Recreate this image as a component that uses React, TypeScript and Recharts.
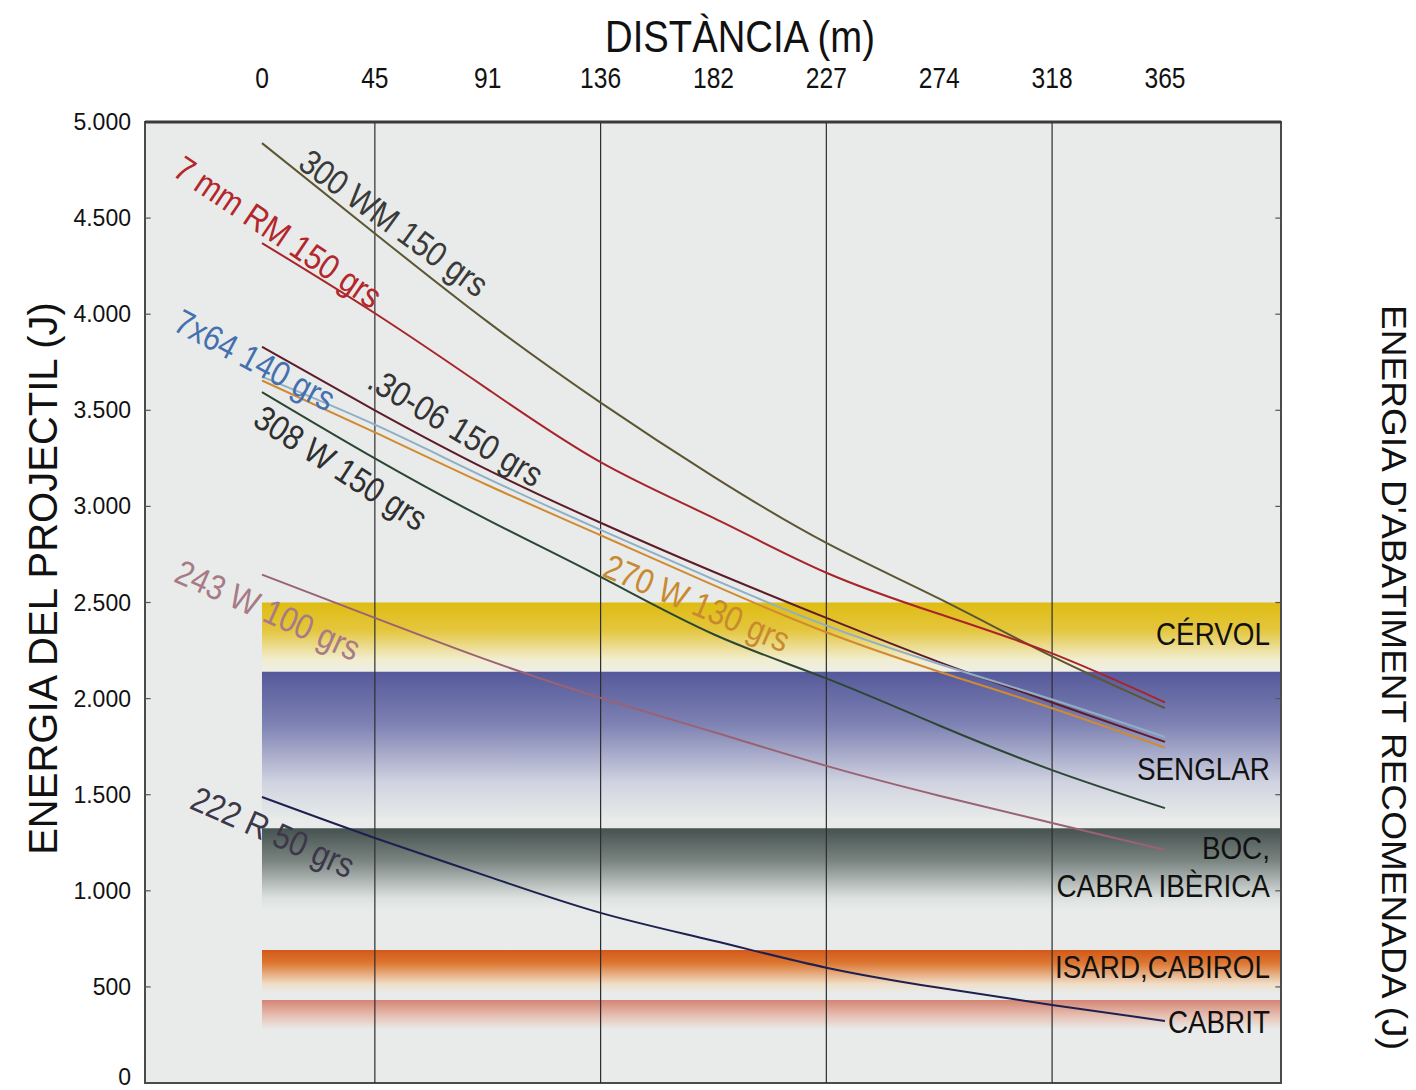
import React from 'react';
import { LineChart, Line, XAxis, YAxis, ReferenceArea, ReferenceLine, ReferenceDot, Label } from 'recharts';

// ---- data ----
const DIST = ['0', '45', '91', '136', '182', '227', '274', '318', '365'];
const IDX = [0, 1, 2, 3, 4, 5, 6, 7, 8];
const WM300 = [4890, 4420, 3960, 3540, 3155, 2810, 2520, 2220, 1950];
const RM7 = [4370, 4005, 3610, 3230, 2940, 2655, 2440, 2235, 1980];
const S3006 = [3830, 3500, 3190, 2915, 2660, 2420, 2190, 1980, 1775];
const X764 = [3675, 3425, 3145, 2878, 2620, 2380, 2180, 1995, 1800];
const W270 = [3655, 3385, 3110, 2850, 2590, 2345, 2140, 1950, 1745];
const W308 = [3595, 3250, 2930, 2633, 2335, 2105, 1860, 1628, 1430];
const W243 = [2645, 2420, 2200, 2003, 1826, 1650, 1495, 1353, 1212];
const R222 = [1488, 1275, 1075, 885, 740, 600, 495, 406, 323];
const Y_TICKS = [0, 500, 1000, 1500, 2000, 2500, 3000, 3500, 4000, 4500, 5000];
const INNER_TICKS = [500, 1000, 1500, 2000, 2500, 3000, 3500, 4000, 4500];
const GRID_IDX = [1, 3, 5, 7];
const X_DOMAIN: [number, number] = [-1.0365, 9.028];
const Y_DOMAIN: [number, number] = [0, 5000];

// recommended energy bands [bottom of fade, top] (J)
const BANDS = [
  { id: 'cervol', from: 2140, to: 2500 },
  { id: 'senglar', from: 1370, to: 2140 },
  { id: 'boc', from: 900, to: 1325 },
  { id: 'isard', from: 470, to: 692 },
  { id: 'cabrit', from: 280, to: 432 },
];
const BAND_LABELS = [
  { text: 'CÉRVOL', y: 2336 },
  { text: 'SENGLAR', y: 1634 },
  { text: 'BOC,', y: 1223 },
  { text: 'CABRA IBÈRICA', y: 1025 },
  { text: 'ISARD,CABIROL', y: 604 },
  { text: 'CABRIT', y: 317 },
];

const SERIES = [
  { key: 'wm300', values: WM300, color: '#5C5632' },
  { key: 'rm7', values: RM7, color: '#A8242A' },
  { key: 's3006', values: S3006, color: '#5E1C28' },
  { key: 'x764', values: X764, color: '#8FAFC6' },
  { key: 'w270', values: W270, color: '#D08A30' },
  { key: 'w308', values: W308, color: '#2C4634' },
  { key: 'w243', values: W243, color: '#9A6272' },
  { key: 'r222', values: R222, color: '#1E2050' },
];

const SERIES_LABELS = [
  { text: '300 WM 150 grs', x: 1.169, y: 4475, angle: 36, color: '#3A3A3A' },
  { text: '7 mm RM 150 grs', x: 0.142, y: 4428, angle: 34, color: '#B3262B' },
  { text: '7x64 140 grs', x: -0.062, y: 3762, angle: 28, color: '#4470B0' },
  { text: '.30-06 150 grs', x: 1.719, y: 3413, angle: 31, color: '#333333' },
  { text: '308 W 150 grs', x: 0.7, y: 3200, angle: 33, color: '#2F2F2F' },
  { text: '270 W 130 grs', x: 3.854, y: 2497, angle: 23, color: '#C88A2E' },
  { text: '243 W 100 grs', x: 0.053, y: 2461, angle: 24, color: '#A77B86' },
  { text: '222 R 50 grs', x: 0.097, y: 1306, angle: 24, color: '#3C3749' },
];

const DATA = IDX.map((i) => {
  const row: any = { i };
  SERIES.forEach((s) => { row[s.key] = s.values[i]; });
  return row;
});

const FONT = "'Liberation Sans',Arial,Helvetica,sans-serif";

const fmt = (v: number) => (v >= 1000 ? `${Math.floor(v / 1000)}.${String(v % 1000).padStart(3, '0')}` : String(v));

// condensed text: Liberation Sans squeezed horizontally
const NText = ({ x, y, angle = 0, anchor = 'middle', size, fill = '#111', sx = 0.82, children }: any) => (
  <text
    transform={`translate(${x} ${y}) rotate(${angle}) scale(${sx} 1)`}
    x={0}
    y={0}
    dy="0.35em"
    textAnchor={anchor}
    fontFamily={FONT}
    fontSize={size}
    fill={fill}
  >
    {children}
  </text>
);

const TopTick = (p: any) => (
  <NText x={p.x} y={p.y - 45} size={30}>
    {DIST[p.payload.value]}
  </NText>
);

const LeftTick = (p: any) => (
  <text x={p.x} y={p.payload.value === 0 ? p.y - 6 : p.y} dy="0.35em" textAnchor="end" fontFamily={FONT} fontSize={23} fill="#111">
    {fmt(p.payload.value)}
  </text>
);

const RightTick = (p: any) => (
  <NText x={p.x} y={p.payload.value === 0 ? p.y - 6 : p.y} anchor="start" size={26}>
    {fmt(p.payload.value)}
  </NText>
);

const TopTitle = (p: any) => {
  const vb = p.viewBox || { x: 145, y: 0, width: 1136, height: 122 };
  return (
    <NText x={vb.x + vb.width / 2 + 27} y={vb.y + 36} size={45} sx={0.85}>
      DISTÀNCIA (m)
    </NText>
  );
};

const LeftTitle = (p: any) => {
  const vb = p.viewBox || { x: 0, y: 122, width: 145, height: 961 };
  const cx = vb.x + 43;
  const cy = vb.y + vb.height / 2 - 24;
  return (
    <text x={cx} y={cy} dy="0.35em" transform={`rotate(-90 ${cx} ${cy})`} textAnchor="middle" fontFamily={FONT} fontSize={40} fill="#111">
      ENERGIA DEL PROJECTIL (J)
    </text>
  );
};

const RightTitle = (p: any) => {
  const vb = p.viewBox || { x: 1281, y: 122, width: 135, height: 961 };
  const cx = vb.x + 113;
  const cy = vb.y + vb.height / 2 + 75;
  return (
    <text
      x={cx}
      y={cy}
      dy="0.35em"
      transform={`rotate(90 ${cx} ${cy})`}
      textAnchor="middle"
      fontFamily={FONT}
      fontSize={35}
      textLength={745}
      lengthAdjust="spacingAndGlyphs"
      fill="#111"
    >
      ENERGIA D'ABATIMENT RECOMENADA (J)
    </text>
  );
};

export default function App() {
  return (
    <div style={{ position: 'absolute', left: 0, top: 0, width: 1416, height: 1090, background: '#fff' }}>
      <LineChart width={1416} height={1090} data={DATA} margin={{ top: 0, right: 0, bottom: 7, left: 0 }}>
        <defs>
          <linearGradient id="g-cervol" x1="0" y1="0" x2="0" y2="1">
            <stop offset="0" stopColor="#DFBC12" />
            <stop offset="0.4" stopColor="#E4C63E" />
            <stop offset="0.82" stopColor="#F1EDCF" />
            <stop offset="1" stopColor="#EEEEE6" />
          </linearGradient>
          <linearGradient id="g-senglar" x1="0" y1="0" x2="0" y2="1">
            <stop offset="0" stopColor="#55599A" />
            <stop offset="0.35" stopColor="#7D81B3" />
            <stop offset="0.75" stopColor="#D0D3E0" />
            <stop offset="1" stopColor="#E8EBE9" />
          </linearGradient>
          <linearGradient id="g-boc" x1="0" y1="0" x2="0" y2="1">
            <stop offset="0" stopColor="#46524F" />
            <stop offset="0.4" stopColor="#7A8582" />
            <stop offset="0.85" stopColor="#DCE1DF" />
            <stop offset="1" stopColor="#E8EBE9" />
          </linearGradient>
          <linearGradient id="g-isard" x1="0" y1="0" x2="0" y2="1">
            <stop offset="0" stopColor="#D2591A" />
            <stop offset="0.3" stopColor="#DC7630" />
            <stop offset="0.8" stopColor="#F0DEC8" />
            <stop offset="1" stopColor="#E8EBE9" />
          </linearGradient>
          <linearGradient id="g-cabrit" x1="0" y1="0" x2="0" y2="1">
            <stop offset="0" stopColor="#D38573" />
            <stop offset="0.5" stopColor="#E6BBAE" />
            <stop offset="1" stopColor="#E8EBE9" />
          </linearGradient>
        </defs>

        <XAxis
          dataKey="i"
          type="number"
          orientation="top"
          height={122}
          domain={X_DOMAIN}
          allowDataOverflow
          ticks={IDX}
          interval={0}
          axisLine={false}
          tickLine={false}
          tickSize={0}
          tickMargin={0}
          tick={<TopTick />}
        >
          <Label content={<TopTitle />} />
        </XAxis>
        <YAxis
          yAxisId="left"
          width={145}
          domain={Y_DOMAIN}
          ticks={Y_TICKS}
          interval={0}
          axisLine={false}
          tickLine={false}
          tickSize={0}
          tickMargin={14}
          tick={<LeftTick />}
        >
          <Label content={<LeftTitle />} />
        </YAxis>
        <YAxis
          yAxisId="right"
          orientation="right"
          width={135}
          domain={Y_DOMAIN}
          ticks={Y_TICKS}
          interval={0}
          axisLine={false}
          tickLine={false}
          tickSize={0}
          tickMargin={17}
          tick={<RightTick />}
        >
          <Label content={<RightTitle />} />
        </YAxis>

        <ReferenceArea
          yAxisId="left"
          x1={X_DOMAIN[0]}
          x2={X_DOMAIN[1]}
          y1={Y_DOMAIN[0]}
          y2={Y_DOMAIN[1]}
          fill="#E8EBE9"
          fillOpacity={1}
          stroke="none"
          ifOverflow="visible"
        />
        {BANDS.map((b) => (
          <ReferenceArea
            key={b.id}
            yAxisId="left"
            x1={0}
            x2={X_DOMAIN[1]}
            y1={b.from}
            y2={b.to}
            fill={`url(#g-${b.id})`}
            fillOpacity={1}
            stroke="none"
            ifOverflow="visible"
          />
        ))}
        {GRID_IDX.map((g) => (
          <ReferenceLine key={g} yAxisId="left" x={g} stroke="#2E2E2E" strokeWidth={1.2} />
        ))}
        {INNER_TICKS.map((t) => (
          <ReferenceLine
            key={`lt${t}`}
            yAxisId="left"
            segment={[{ x: X_DOMAIN[0], y: t }, { x: X_DOMAIN[0] + 0.05, y: t }]}
            stroke="#555"
            strokeWidth={1.2}
            ifOverflow="visible"
          />
        ))}
        {INNER_TICKS.map((t) => (
          <ReferenceLine
            key={`rt${t}`}
            yAxisId="left"
            segment={[{ x: X_DOMAIN[1] - 0.05, y: t }, { x: X_DOMAIN[1], y: t }]}
            stroke="#555"
            strokeWidth={1.2}
            ifOverflow="visible"
          />
        ))}

        {SERIES.map((s) => (
          <Line
            key={s.key}
            yAxisId="left"
            dataKey={s.key}
            type="natural"
            stroke={s.color}
            strokeWidth={2}
            dot={false}
            activeDot={false}
            isAnimationActive={false}
          />
        ))}

        {SERIES_LABELS.map((l) => (
          <ReferenceDot
            key={l.text}
            yAxisId="left"
            x={l.x}
            y={l.y}
            r={0}
            ifOverflow="visible"
            shape={(p: any) => (
              <NText x={p.cx} y={p.cy} angle={l.angle} size={35} sx={0.87} fill={l.color}>
                {l.text}
              </NText>
            )}
          />
        ))}

        {BAND_LABELS.map((l) => (
          <ReferenceDot
            key={l.text}
            yAxisId="left"
            x={8.93}
            y={l.y}
            r={0}
            ifOverflow="visible"
            shape={(p: any) => (
              <NText x={p.cx} y={p.cy} anchor="end" size={32} sx={0.87}>
                {l.text}
              </NText>
            )}
          />
        ))}

        <ReferenceArea
          yAxisId="left"
          x1={X_DOMAIN[0]}
          x2={X_DOMAIN[1]}
          y1={Y_DOMAIN[0]}
          y2={Y_DOMAIN[1]}
          fill="none"
          stroke="#4A4A4A"
          strokeWidth={2}
          ifOverflow="visible"
        />
        <ReferenceLine yAxisId="left" y={5000} stroke="#3A3A3A" strokeWidth={3} />
      </LineChart>
    </div>
  );
}
